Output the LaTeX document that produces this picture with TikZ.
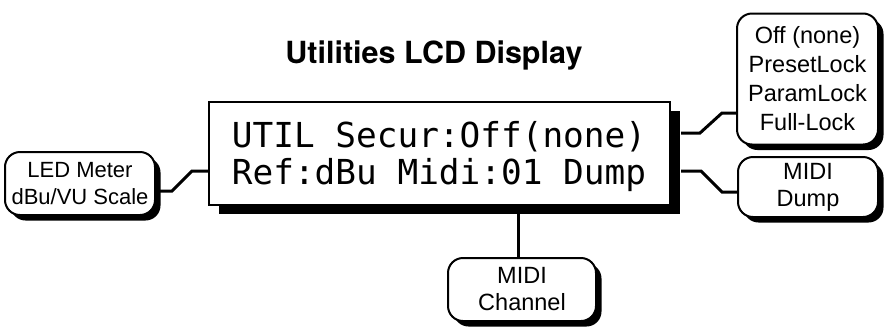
\documentclass[tikz,border=0pt]{standalone}
\usepackage{fontspec}
\setmainfont{Liberation Sans}
\newfontfamily\titlefont{TeX Gyre Heros}
\newfontfamily\lcdfont{DejaVu Sans Mono}
\usetikzlibrary{shadows}
\begin{document}
\begin{tikzpicture}[x=1pt,y=1pt,
  lcdbox/.style={draw, line width=2pt, fill=white, inner sep=0pt,
    minimum width=461pt, minimum height=103pt,
    drop shadow={shadow xshift=10pt, shadow yshift=-9pt, fill=black, opacity=1}},
  lcdtext/.style={font=\lcdfont\fontsize{34.4}{34.4}\selectfont, anchor=base, inner sep=0pt},
  lbl/.style={draw, line width=2pt, rounded corners=15pt, fill=white, align=center,
    inner sep=0pt, font=\fontsize{23.5}{27}\selectfont,
    drop shadow={shadow xshift=5.5pt, shadow yshift=-5.5pt, fill=black, opacity=1}},
  conn/.style={line width=3pt, line join=miter}]
\useasboundingbox (0,0) rectangle (885,-327);

\node[font=\titlefont\bfseries\fontsize{30.5}{30.5}\selectfont, anchor=base, inner sep=0pt]
  (title) at (434,-63) {Utilities LCD Display};

\node[lbl, minimum width=150pt, minimum height=63pt, font=\fontsize{22}{27}\selectfont] (led) at (80,-183.5) {LED Meter\\dBu/VU Scale};
\node[lbl, minimum width=141pt, minimum height=131pt, font=\fontsize{23.5}{29}\selectfont] (secur) at (807.5,-79) {Off (none)\\PresetLock\\ParamLock\\Full-Lock};
\node[lbl, minimum width=140pt, minimum height=60pt] (dump) at (808,-187) {MIDI\\Dump};
\node[lbl, minimum width=148pt, minimum height=63pt] (chan) at (522,-289.5) {MIDI\\Channel};

\node[lcdbox] (lcd) at (439.5,-153.5) {};
\node[lcdtext] (lineA) at (439,-147) {UTIL Secur:Off(none)};
\node[lcdtext] (lineB) at (439,-184) {Ref:dBu Midi:01 Dump};

\coordinate (l1) at (192,-171);
\coordinate (l2) at (172,-191);
\coordinate (r1) at (700,-133);
\coordinate (r2) at (722,-113);
\coordinate (s1) at (701,-171);
\coordinate (s2) at (722,-192);

\draw[conn] ([yshift=-17.5pt]lcd.west) -- (l1) -- (l2) -- (l2 -| led.east);
\draw[conn] ([xshift=10pt,yshift=20.5pt]lcd.east) -- (r1) -- (r2) -- (r2 -| secur.west);
\draw[conn] ([xshift=10pt,yshift=-17.5pt]lcd.east) -- (s1) -- (s2) -- (s2 -| dump.west);
\draw[conn] ([xshift=-4pt]chan.north) -- ([xshift=-4pt]chan.north |- lcd.south);
\end{tikzpicture}
\end{document}
